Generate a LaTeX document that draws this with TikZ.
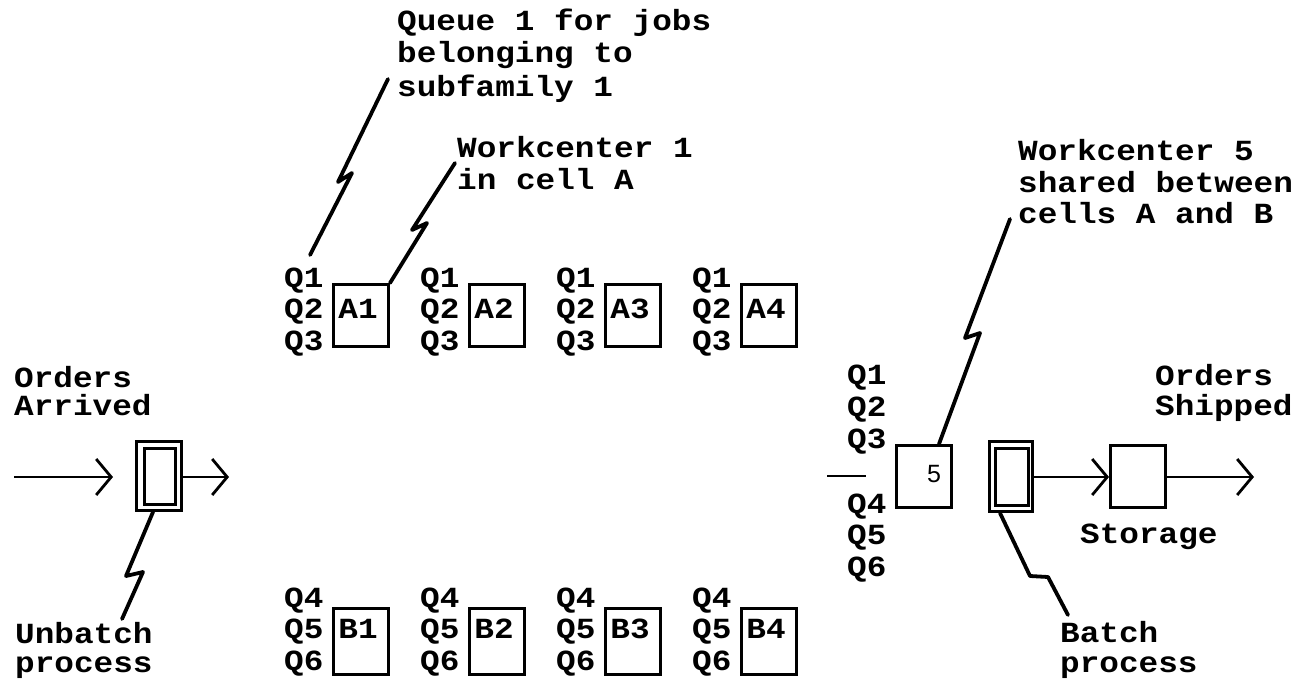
\documentclass[tikz,border=0pt]{standalone}
\usepackage{fontspec}
\newfontfamily\cour{Liberation Mono}[FakeStretch=1.12]
\newfontfamily\arialf{Liberation Sans}
\usetikzlibrary{arrows.meta,calc}
\begin{document}
\begin{tikzpicture}[x=1pt,y=-1pt,
  lbl/.style={inner sep=0pt, anchor=base west, font=\cour\bfseries\fontsize{29.2}{31.5}\selectfont},
  wbox/.style={draw, line width=3pt, minimum width=55pt, minimum height=62pt, inner sep=0pt},
  flow/.style={line width=2.8pt, -{Straight Barb[length=15pt,width=36pt]}},
  lead/.style={line width=3.8pt, line join=round, line cap=round}]
\useasboundingbox (0,0) rectangle (1297,682);

% ---------- cell A workcenters ----------
\foreach \i/\L in {1/332,2/468,3/604,4/740}{
  \node[wbox] (A\i) at (\L+29,315.5) {};
  \node[lbl,anchor=base] (tA\i) at (\L+26,318) {A\i};
  \node[lbl] (qA\i-1) at (\L-48,287) {Q1};
  \node[lbl] (qA\i-2) at (\L-48,318) {Q2};
  \node[lbl] (qA\i-3) at (\L-48,350) {Q3};
}
% ---------- cell B workcenters ----------
\foreach \i/\L in {1/332,2/468,3/604,4/740}{
  \node[wbox, minimum height=66pt] (B\i) at (\L+29,641.5) {};
  \node[lbl,anchor=base] (tB\i) at (\L+26,638) {B\i};
  \node[lbl] (qB\i-4) at (\L-48,607) {Q4};
  \node[lbl] (qB\i-5) at (\L-48,638) {Q5};
  \node[lbl] (qB\i-6) at (\L-48,670) {Q6};
}

% ---------- shared workcenter 5 ----------
\node[wbox] (W5) at (924,476.5) {};
\node[inner sep=0pt, anchor=base, font=\arialf\fontsize{25}{26}\selectfont] (t5) at (934,482) {5};
\node[lbl] (q5-1) at (847,384) {Q1};
\node[lbl] (q5-2) at (847,416) {Q2};
\node[lbl] (q5-3) at (847,448) {Q3};
\node[lbl] (q5-4) at (847,513) {Q4};
\node[lbl] (q5-5) at (847,544) {Q5};
\node[lbl] (q5-6) at (847,576) {Q6};
\coordinate (dashL) at (827,476);
\coordinate (dashR) at (866,476);
\draw[line width=2.5pt] (dashL) -- (dashR);

% ---------- unbatch (double box) ----------
\node[draw, line width=3pt, minimum width=45pt, minimum height=69pt, inner sep=0pt] (UB) at (159,476) {};
\node[draw, line width=3pt, minimum width=31pt, minimum height=56pt, inner sep=0pt] (UBi) at (159.5,476) {};

% ---------- batch (double box) ----------
\node[draw, line width=3pt, minimum width=43pt, minimum height=70pt, inner sep=0pt] (BB) at (1011,476.5) {};
\node[draw, line width=3pt, minimum width=33pt, minimum height=57pt, inner sep=0pt] (BBi) at (1011.5,476.5) {};

% ---------- storage ----------
\node[wbox] (ST) at (1138,476.5) {};

% ---------- flow arrows ----------
\coordinate (inStart) at (14,477);
\coordinate (ubOut) at (229,477);
\coordinate (shipOut) at (1254,477);
\draw[flow, shorten >=22pt] (inStart) -- (UB.west |- inStart);
\draw[flow] (UB.east |- inStart) -- (ubOut);
\draw[flow] (BB.east |- inStart) -- (ST.west |- inStart);
\draw[flow] (ST.east |- inStart) -- (shipOut);

% ---------- labels ----------
\node[lbl] (oa1) at (14,387) {Orders};
\node[lbl] (oa2) at (14,415) {Arrived};
\node[lbl] (ub1) at (15,643) {Unbatch};
\node[lbl] (ub2) at (15,672) {process};
\node[lbl] (qq1) at (397,31) {Queue 1 for jobs};
\node[lbl] (qq2) at (397,63) {belonging to};
\node[lbl] (qq3) at (397,97) {subfamily 1};
\node[lbl] (wc1) at (457,157) {Workcenter 1};
\node[lbl] (wc2) at (457,189) {in cell A};
\node[lbl] (w51) at (1018,160) {Workcenter 5};
\node[lbl] (w52) at (1018,192) {shared between};
\node[lbl] (w53) at (1018,223) {cells A and B};
\node[lbl] (os1) at (1155,385) {Orders};
\node[lbl] (os2) at (1155,415) {Shipped};
\node[lbl] (stl) at (1080,543) {Storage};
\node[lbl] (bp1) at (1060,642) {Batch};
\node[lbl] (bp2) at (1060,672) {process};

% ---------- lightning leaders ----------
\coordinate (qlTop) at (388,79);
\coordinate (qlBot) at (310,255);
\draw[lead] (qlTop) -- (338,182) -- (352,173) -- (qlBot);

\coordinate (wlTop) at (455,163);
\draw[lead] (wlTop) -- (412,230) -- (427,223) -- (A1.north east);

\coordinate (w5Top) at (1010,219);
\draw[lead] (w5Top) -- (965,338) -- (980,333) -- ([xshift=-14pt]W5.north east);

\coordinate (ubBot) at (122,619);
\draw[lead] ([xshift=-6pt]UB.south) -- (126,576) -- (143,572) -- (ubBot);

\coordinate (bbBot) at (1068,615);
\draw[lead] ([xshift=-11pt]BB.south) -- (1030,576) -- (1048,577) -- (bbBot);
\end{tikzpicture}
\end{document}
